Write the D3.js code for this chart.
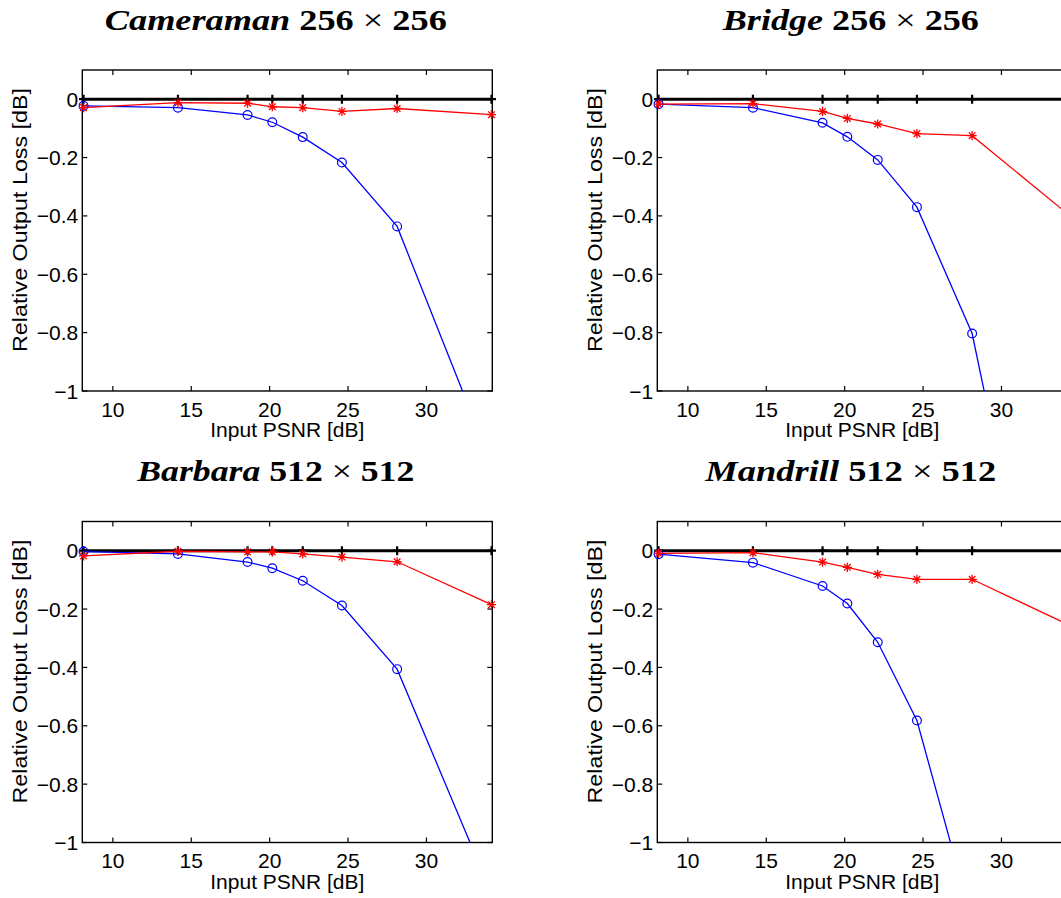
<!DOCTYPE html>
<html>
<head>
<meta charset="utf-8">
<script src="https://cdn.jsdelivr.net/npm/d3@7"></script>
<style>
  html, body { margin: 0; padding: 0; background: #fff; }
  svg { display: block; }
</style>
</head>
<body>
<svg id="fig" width="1061" height="898"></svg>
<script>
// Input PSNR levels (dB) shared by all four panels
const psnr = [8.13, 14.15, 18.59, 20.17, 22.11, 24.61, 28.13, 34.15];

// Panel titles
const imageNames = ["Cameraman", "Bridge", "Barbara", "Mandrill"];
const imageSizes = ["256", "256", "512", "512"];

// Reference curve (no loss)
const reference = [0, 0, 0, 0, 0, 0, 0, 0];

// Relative output loss [dB], red (*) and blue (o) curves per image
const cameramanRed  = [-0.029, -0.012, -0.014, -0.026, -0.029, -0.042, -0.032, -0.053];
const cameramanBlue = [-0.023, -0.029, -0.054, -0.079, -0.130, -0.217, -0.436, -1.25];
const bridgeRed     = [-0.017, -0.015, -0.042, -0.066, -0.085, -0.118, -0.125, -0.39];
const bridgeBlue    = [-0.017, -0.029, -0.081, -0.129, -0.208, -0.370, -0.803, -2.35];
const barbaraRed    = [-0.018, -0.002, -0.004, -0.004, -0.011, -0.022, -0.038, -0.185];
const barbaraBlue   = [-0.003, -0.011, -0.039, -0.060, -0.103, -0.188, -0.406, -1.175];
const mandrillRed   = [-0.009, -0.007, -0.039, -0.057, -0.081, -0.098, -0.098, -0.251];
const mandrillBlue  = [-0.012, -0.041, -0.121, -0.181, -0.314, -0.582, -1.27, -2.6];

// Axis ticks
const xTicks = [10, 15, 20, 25, 30];
const yTicks = [0, -0.2, -0.4, -0.6, -0.8, -1];
const yTickLabels = ["0", "\u22120.2", "\u22120.4", "\u22120.6", "\u22120.8", "\u22121"];

const redSeries  = [cameramanRed, bridgeRed, barbaraRed, mandrillRed];
const blueSeries = [cameramanBlue, bridgeBlue, barbaraBlue, mandrillBlue];

// Layout
const panelW = 410, panelH = 321;
const origins = [[82.3, 70], [657.3, 70], [82.3, 521.5], [657.3, 521.5]];
const titleWidths = [342, 256, 277, 291];
const sansFont = "'Liberation Sans', Arial, Helvetica, sans-serif";
const serifFont = "'Liberation Serif', 'Times New Roman', serif";

const svg = d3.select("#fig");
svg.append("rect").attr("width", 1061).attr("height", 898).attr("fill", "#fff");

const x = d3.scaleLinear().domain([8.05, 34.2]).range([0, panelW]);
const y = d3.scaleLinear().domain([-1, 0.1]).range([panelH, 0]);

const line = d3.line().x(d => x(d[0])).y(d => y(d[1]));

function starPath(r) {
  const d = r * 0.72;
  return `M${-r},0L${r},0M0,${-r}L0,${r}M${-d},${-d}L${d},${d}M${-d},${d}L${d},${-d}`;
}
function plusPath(r) {
  return `M${-r},0L${r},0M0,${-r}L0,${r}`;
}

origins.forEach(([ox, oy], i) => {
  const g = svg.append("g").attr("transform", `translate(${ox},${oy})`);

  const clipId = "clip" + i;
  g.append("clipPath").attr("id", clipId)
    .append("rect").attr("x", 0).attr("y", 0).attr("width", panelW).attr("height", panelH);

  // Title
  const title = svg.append("text")
    .attr("x", ox + panelW / 2 - 11.5)
    .attr("y", oy - 40.5)
    .attr("text-anchor", "middle")
    .attr("font-family", serifFont)
    .attr("font-size", 30)
    .attr("textLength", titleWidths[i])
    .attr("lengthAdjust", "spacingAndGlyphs")
    .attr("fill", "#000");
  title.append("tspan").attr("font-style", "italic").attr("font-weight", "bold").text(imageNames[i]);
  title.append("tspan").attr("font-weight", "bold").text(" " + imageSizes[i] + " ");
  title.append("tspan").attr("font-weight", "normal").text("\u00d7");
  title.append("tspan").attr("font-weight", "bold").text(" " + imageSizes[i]);

  // Axes box
  g.append("rect").attr("x", 0).attr("y", 0).attr("width", panelW).attr("height", panelH)
    .attr("fill", "none").attr("stroke", "#000").attr("stroke-width", 1.4);

  // Inward ticks: bottom/top and left/right
  const tickLen = 5;
  xTicks.forEach(t => {
    g.append("line").attr("x1", x(t)).attr("x2", x(t)).attr("y1", panelH).attr("y2", panelH - tickLen)
      .attr("stroke", "#000").attr("stroke-width", 1.2);
    g.append("line").attr("x1", x(t)).attr("x2", x(t)).attr("y1", 0).attr("y2", tickLen)
      .attr("stroke", "#000").attr("stroke-width", 1.2);
    g.append("text").attr("x", x(t)).attr("y", panelH + 25.5)
      .attr("text-anchor", "middle").attr("font-family", sansFont).attr("font-size", 21)
      .text(t);
  });
  yTicks.forEach((t, k) => {
    g.append("line").attr("x1", 0).attr("x2", tickLen).attr("y1", y(t)).attr("y2", y(t))
      .attr("stroke", "#000").attr("stroke-width", 1.2);
    g.append("line").attr("x1", panelW).attr("x2", panelW - tickLen).attr("y1", y(t)).attr("y2", y(t))
      .attr("stroke", "#000").attr("stroke-width", 1.2);
    g.append("text").attr("x", -4).attr("y", y(t)).attr("dy", "0.36em")
      .attr("text-anchor", "end").attr("font-family", sansFont).attr("font-size", 21)
      .text(yTickLabels[k]);
  });

  // Axis labels
  g.append("text").attr("x", panelW / 2).attr("y", panelH + 46)
    .attr("text-anchor", "middle").attr("font-family", sansFont).attr("font-size", 21)
    .text("Input PSNR [dB]");
  g.append("text")
    .attr("transform", `translate(${-55.8},${150})rotate(-90)`)
    .attr("text-anchor", "middle").attr("font-family", sansFont).attr("font-size", 21)
    .attr("textLength", 264).attr("lengthAdjust", "spacingAndGlyphs")
    .text("Relative Output Loss [dB]");

  const inDomain = d => d[1] >= -1 && d[1] <= 0.1;

  // Reference line with + markers
  const refPts = psnr.map((p, k) => [p, reference[k]]);
  g.append("path").datum(refPts).attr("d", line).attr("clip-path", `url(#${clipId})`)
    .attr("fill", "none").attr("stroke", "#000").attr("stroke-width", 3);
  g.selectAll(null).data(refPts.filter(inDomain)).enter().append("path")
    .attr("transform", d => `translate(${x(d[0])},${y(d[1])})`)
    .attr("d", plusPath(4.5)).attr("stroke", "#000").attr("stroke-width", 2.2).attr("fill", "none");

  // Blue curve with circle markers
  const bluePts = psnr.map((p, k) => [p, blueSeries[i][k]]);
  g.append("path").datum(bluePts).attr("d", line).attr("clip-path", `url(#${clipId})`)
    .attr("fill", "none").attr("stroke", "#0000ff").attr("stroke-width", 1.3);
  g.selectAll(null).data(bluePts.filter(inDomain)).enter().append("circle")
    .attr("cx", d => x(d[0])).attr("cy", d => y(d[1])).attr("r", 4.4)
    .attr("fill", "none").attr("stroke", "#0000ff").attr("stroke-width", 1.2);

  // Red curve with star markers
  const redPts = psnr.map((p, k) => [p, redSeries[i][k]]);
  g.append("path").datum(redPts).attr("d", line).attr("clip-path", `url(#${clipId})`)
    .attr("fill", "none").attr("stroke", "#ff0000").attr("stroke-width", 1.3);
  g.selectAll(null).data(redPts.filter(inDomain)).enter().append("path")
    .attr("transform", d => `translate(${x(d[0])},${y(d[1])})`)
    .attr("d", starPath(4.6)).attr("stroke", "#ff0000").attr("stroke-width", 1.3).attr("fill", "none");
});
</script>
</body>
</html>
